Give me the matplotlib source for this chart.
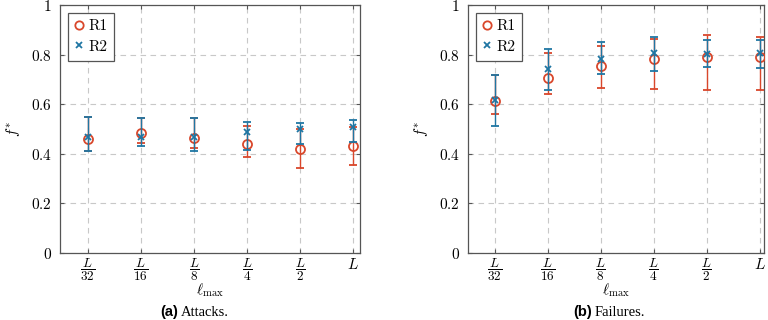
import numpy as np
import matplotlib

matplotlib.use("Agg")
import matplotlib.pyplot as plt
from matplotlib.lines import Line2D

plt.rcParams["mathtext.fontset"] = "cm"

# --------------------------------------------------------------------------- #
# data (f* mean, lower / upper end of the error bar)
# --------------------------------------------------------------------------- #
TICKS = [r"$\dfrac{L}{32}$", r"$\dfrac{L}{16}$", r"$\dfrac{L}{8}$",
         r"$\dfrac{L}{4}$", r"$\dfrac{L}{2}$", r"$L$"]

# (a) attacks
ATT_R1 = [0.460, 0.485, 0.462, 0.441, 0.421, 0.433]
ATT_R1_LO = [0.411, 0.445, 0.425, 0.388, 0.344, 0.356]
ATT_R1_HI = [0.547, 0.543, 0.543, 0.513, 0.502, 0.510]
ATT_R2 = [0.466, 0.468, 0.466, 0.488, 0.500, 0.508]
ATT_R2_LO = [0.411, 0.430, 0.410, 0.415, 0.438, 0.446]
ATT_R2_HI = [0.547, 0.543, 0.543, 0.528, 0.525, 0.536]

# (b) failures
FAIL_R1 = [0.614, 0.706, 0.755, 0.784, 0.790, 0.790]
FAIL_R1_LO = [0.559, 0.640, 0.667, 0.661, 0.656, 0.656]
FAIL_R1_HI = [0.719, 0.805, 0.836, 0.863, 0.878, 0.870]
FAIL_R2 = [0.615, 0.741, 0.784, 0.808, 0.802, 0.805]
FAIL_R2_LO = [0.511, 0.657, 0.722, 0.735, 0.751, 0.747]
FAIL_R2_HI = [0.719, 0.821, 0.850, 0.870, 0.860, 0.858]

RED, BLUE = "#d9472b", "#1f76a3"
GRID, SPINE = "#c8c8c8", "#555555"


def panel(ax, r1, r1lo, r1hi, r2, r2lo, r2hi):
    x = np.arange(len(TICKS))
    r1, r2 = np.array(r1), np.array(r2)
    e1 = [r1 - np.array(r1lo), np.array(r1hi) - r1]
    e2 = [r2 - np.array(r2lo), np.array(r2hi) - r2]
    ax.errorbar(x, r1, yerr=e1, fmt="o", color=RED, ecolor=RED, mfc="none",
                mec=RED, ms=6.5, mew=1.3, elinewidth=1.0, capsize=3, capthick=1.0,
                zorder=3)
    ax.errorbar(x, r2, yerr=e2, fmt="x", color=BLUE, ecolor=BLUE, ms=4.5, mew=1.3,
                elinewidth=1.0, capsize=3, capthick=1.0, zorder=4)
    ax.set_xticks(x)
    ax.set_xticklabels(TICKS, fontsize=9.5)
    ax.get_xticklabels()[-1].set_fontsize(11)
    ax.set_ylim(0, 1)
    ax.set_yticks([0, 0.2, 0.4, 0.6, 0.8, 1])
    ax.set_yticklabels(["$0$", "$0.2$", "$0.4$", "$0.6$", "$0.8$", "$1$"], fontsize=11)
    ax.set_xlabel(r"$\ell_{\max}$", fontsize=11, va="center")
    ax.xaxis.set_label_coords(0.5, -0.15)
    ax.set_ylabel(r"$f^{*}$", fontsize=11, labelpad=6)
    ax.grid(True, color=GRID, ls=(0, (5, 4)), lw=0.8)
    ax.set_axisbelow(True)
    for s in ax.spines.values():
        s.set_color(SPINE)
        s.set_linewidth(0.9)
    ax.tick_params(direction="in", length=3, color=SPINE, top=True, right=True)
    ax.tick_params(axis="x", pad=3)
    ax.tick_params(axis="y", pad=6)
    handles = [Line2D([], [], ls="none", marker="o", ms=6, mfc="none", mec=RED, mew=1.3),
               Line2D([], [], ls="none", marker="x", ms=4.5, mec=BLUE, mew=1.3)]
    leg = ax.legend(handles, ["R1", "R2"], loc="upper left",
                    prop={"family": "cmr10", "size": 11},
                    fancybox=False, edgecolor=SPINE, framealpha=1,
                    handlelength=0.6, handletextpad=0.3, borderpad=0.45,
                    labelspacing=0.45, borderaxespad=0.5)
    leg.get_frame().set_linewidth(0.9)


fig = plt.figure(figsize=(7.68, 3.2), dpi=100)
ax1 = fig.add_axes([60 / 768, 67 / 320, 300 / 768, 248 / 320])
ax2 = fig.add_axes([468 / 768, 67 / 320, 296 / 768, 248 / 320])

panel(ax1, ATT_R1, ATT_R1_LO, ATT_R1_HI, ATT_R2, ATT_R2_LO, ATT_R2_HI)
panel(ax2, FAIL_R1, FAIL_R1_LO, FAIL_R1_HI, FAIL_R2, FAIL_R2_LO, FAIL_R2_HI)
ax1.set_xlim(-0.53, 5.13)
ax2.set_xlim(-0.51, 5.08)

for cx, tag, cap in [(178 / 768, "(a)", "Attacks."), (592 / 768, "(b)", "Failures.")]:
    fig.text(cx, 8 / 320, tag, ha="right", va="center", fontsize=10.5,
             family="Liberation Sans", weight="bold")
    fig.text(cx + 3 / 768, 8 / 320, cap, ha="left", va="center", fontsize=10.5,
             family="Liberation Serif")

fig.savefig("out.png", dpi=100)
